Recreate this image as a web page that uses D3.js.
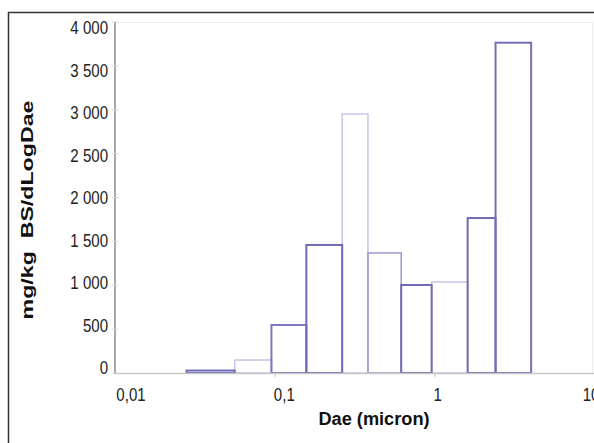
<!DOCTYPE html>
<html>
<head>
<meta charset="utf-8">
<script src="https://cdn.jsdelivr.net/npm/d3@7"></script>
<style>
  body { margin: 0; background: #fff; }
  svg { display: block; }
</style>
</head>
<body>
<svg id="svg" width="594" height="443"></svg>
<script>
// ELPI stage cut points (micron) and mass per stage
const binEdges = [0.028, 0.056, 0.095, 0.157, 0.263, 0.381, 0.615, 0.953, 1.6, 2.39, 3.99]
const values = [28, 148, 547, 1459, 2952, 1368, 1003, 1037, 1766, 3764]
const yTicks = [0, 500, 1000, 1500, 2000, 2500, 3000, 3500, 4000]
const xTicks = [0.01, 0.1, 1, 10]
const xTickLabels = ['0,01', '0,1', '1', '10']

const bins = values.map((v, i) => ({ x0: binEdges[i], x1: binEdges[i + 1], value: v, i }))

const svg = d3.select('#svg')
const font = '"Liberation Sans", Arial, sans-serif'

const x = d3.scaleLog().domain([0.01, 10]).range([115, 595])
const y = d3.scaleLinear().domain([0, 4000]).range([373, 22])
// labels sit slightly inside the tick positions in the original
const xLab = d3.scaleLog().domain([0.01, 10]).range([131, 591])
const yLab = d3.scaleLinear().domain([0, 4000]).range([368, 28])

// outline shade per bar (dark / light edges as in the scan)
const shade = ['#6f6bb4', '#c6c4e6', '#7c78bc', '#6f6bb4', '#c6c4e6', '#9a97cf', '#6f6bb4', '#c6c4e6', '#6f6bb4', '#7470b8']
const isLight = i => shade[i] === '#c6c4e6' || shade[i] === '#9a97cf'

svg.append('rect')
  .attr('width', 594).attr('height', 443).attr('fill', '#fff')

// outer frame
svg.append('rect')
  .attr('x', 8.5).attr('y', 12.5)
  .attr('width', 700).attr('height', 500)
  .attr('fill', 'none')
  .attr('stroke', '#333')
  .attr('stroke-width', 1.5)

// faint plot area border
svg.append('rect')
  .attr('x', 115.5).attr('y', y(4000) + 0.5)
  .attr('width', 477).attr('height', y(0) - y(4000))
  .attr('fill', 'none')
  .attr('stroke', '#ececec')

// bars, light outlines first so dark edges stay on top
const order = bins.slice().sort((a, b) => (isLight(b.i) ? 1 : 0) - (isLight(a.i) ? 1 : 0))
svg.append('g')
  .selectAll('rect')
  .data(order)
  .join('rect')
  .attr('x', d => x(d.x0))
  .attr('y', d => y(d.value))
  .attr('width', d => x(d.x1) - x(d.x0))
  .attr('height', d => y(0) - y(d.value))
  .attr('fill', 'none')
  .attr('stroke', d => shade[d.i])
  .attr('stroke-width', d => isLight(d.i) ? 1.5 : 2)

// x axis
svg.append('line')
  .attr('x1', 115).attr('x2', 594)
  .attr('y1', y(0) + 0.5).attr('y2', y(0) + 0.5)
  .attr('stroke', '#c8c8c8').attr('stroke-width', 1.5)

svg.append('g')
  .selectAll('line')
  .data(xTicks.slice(1, 3))
  .join('line')
  .attr('x1', d => x(d)).attr('x2', d => x(d))
  .attr('y1', y(0)).attr('y2', y(0) + 4)
  .attr('stroke', '#c8c8c8')

// tick labels are condensed in the source picture
svg.append('g')
  .selectAll('text')
  .data(xTicks)
  .join('text')
  .attr('transform', d => `translate(${xLab(d)}, 401) scale(0.86, 1)`)
  .attr('text-anchor', 'middle')
  .style('font-family', font)
  .style('font-size', '17.5px')
  .style('fill', '#222')
  .text((d, i) => xTickLabels[i])

// y axis
svg.append('line')
  .attr('x1', 115).attr('x2', 115)
  .attr('y1', y(4000)).attr('y2', y(0) + 1)
  .attr('stroke', '#a8a8a8').attr('stroke-width', 2)

svg.append('g')
  .selectAll('line')
  .data(yTicks)
  .join('line')
  .attr('x1', 112).attr('x2', 118)
  .attr('y1', d => y(d)).attr('y2', d => y(d))
  .attr('stroke', '#d8d8d8')

svg.append('g')
  .selectAll('text')
  .data(yTicks)
  .join('text')
  .attr('transform', d => `translate(108, ${yLab(d)}) scale(0.86, 1)`)
  .attr('dy', '0.35em')
  .attr('text-anchor', 'end')
  .style('font-family', font)
  .style('font-size', '17.5px')
  .style('fill', '#222')
  .text(d => d === 0 ? '0' : d3.format(',')(d).replace(',', ' '))

// axis titles
svg.append('text')
  .attr('transform', 'translate(374, 425) scale(1.04, 1)')
  .attr('text-anchor', 'middle')
  .style('font-family', font)
  .style('font-weight', 'bold')
  .style('font-size', '17.5px')
  .style('fill', '#111')
  .text('Dae (micron)')

svg.append('text')
  .attr('transform', 'translate(33, 210) rotate(-90) scale(1.45, 1)')
  .attr('text-anchor', 'middle')
  .style('font-family', font)
  .style('font-weight', 'bold')
  .style('font-size', '16px')
  .style('fill', '#111')
  .style('white-space', 'pre')
  .text('mg/kg  BS/dLogDae')
</script>
</body>
</html>
